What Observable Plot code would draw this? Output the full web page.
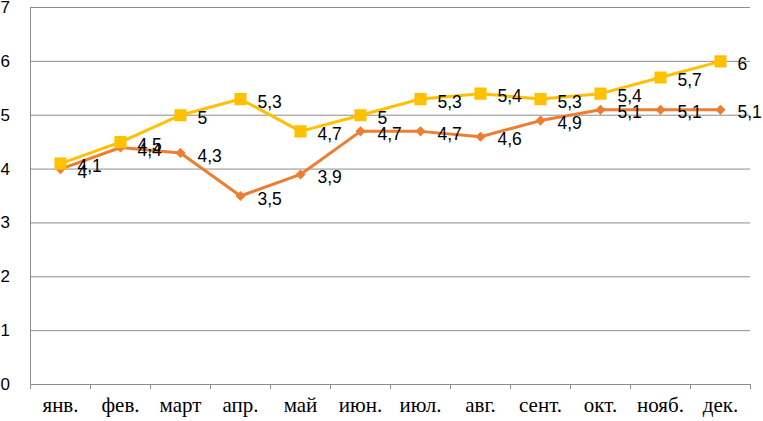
<!DOCTYPE html>
<html>
<head>
<meta charset="utf-8">
<script src="https://cdn.jsdelivr.net/npm/d3@7"></script>
<script src="https://cdn.jsdelivr.net/npm/@observablehq/plot@0.6"></script>
<style>
  html, body { margin: 0; padding: 0; background: #fff; }
  #chart svg { display: block; }
</style>
</head>
<body>
<div id="chart"></div>
<script>
const months = ["янв.", "фев.", "март", "апр.", "май", "июн.", "июл.", "авг.", "сент.", "окт.", "нояб.", "дек."];
const seriesYellow = [4.1, 4.5, 5, 5.3, 4.7, 5, 5.3, 5.4, 5.3, 5.4, 5.7, 6];
const seriesOrange = [4, 4.4, 4.3, 3.5, 3.9, 4.7, 4.7, 4.6, 4.9, 5.1, 5.1, 5.1];
const yTicks = [0, 1, 2, 3, 4, 5, 6, 7];

const yellow = "#FFC000";
const orange = "#ED7D31";
const grid = "#8c8c8c";

const rows = months.map((m, i) => ({ m, x: i + 0.5, a: seriesYellow[i], b: seriesOrange[i] }));
const boundaries = d3.range(months.length + 1);
const fmt = v => String(v).replace(".", ",");

const chart = Plot.plot({
  width: 763,
  height: 421,
  marginLeft: 30,
  marginRight: 13,
  marginTop: 7,
  marginBottom: 37,
  x: { type: "linear", domain: [0, months.length], axis: null },
  y: { type: "linear", domain: [0, 7], axis: null },
  style: { background: "#fff", overflow: "visible" },
  marks: [
    Plot.gridY(yTicks, { stroke: grid, strokeOpacity: 1, strokeWidth: 1 }),
    Plot.ruleX([0], { y1: 0, y2: 7, stroke: grid, strokeWidth: 1 }),
    Plot.axisX(boundaries, { tickSize: 5, tickFormat: () => "", stroke: grid, strokeOpacity: 1, label: null }),
    Plot.axisY(yTicks, { tickSize: 0, tickPadding: 20.5, tickFormat: d => String(d), fontSize: 17, fontFamily: "Liberation Sans, Arial, sans-serif", fill: "#000", label: null }),
    Plot.text(rows, { x: "x", y: 0, text: "m", dy: 21, fontSize: 21, fontFamily: "Liberation Serif, Times New Roman, serif", fill: "#000" }),
    Plot.line(rows, { x: "x", y: "b", stroke: orange, strokeWidth: 3 }),
    Plot.dot(rows, { x: "x", y: "b", symbol: "diamond2", r: 3.6, fill: orange, stroke: orange }),
    Plot.line(rows, { x: "x", y: "a", stroke: yellow, strokeWidth: 3 }),
    Plot.dot(rows, { x: "x", y: "a", symbol: "square", r: 6, fill: yellow, stroke: yellow }),
    Plot.text(rows, { x: "x", y: "b", text: d => fmt(d.b), textAnchor: "start", dx: 17, dy: 3, fontSize: 17.5, fontFamily: "Liberation Sans, Arial, sans-serif", fill: "#000" }),
    Plot.text(rows, { x: "x", y: "a", text: d => fmt(d.a), textAnchor: "start", dx: 17, dy: 3, fontSize: 17.5, fontFamily: "Liberation Sans, Arial, sans-serif", fill: "#000" })
  ]
});
document.getElementById("chart").appendChild(chart);
</script>
</body>
</html>
